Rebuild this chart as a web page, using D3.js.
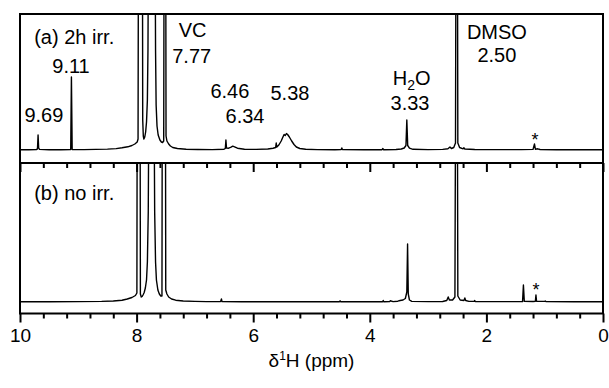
<!DOCTYPE html>
<html>
<head>
<meta charset="utf-8">
<script src="https://cdn.jsdelivr.net/npm/d3@7"></script>
<style>
  body { margin: 0; background: #fff; }
  svg { display: block; }
  text { font-family: "Liberation Sans", Arial, sans-serif; fill: #000; }
</style>
</head>
<body>
<svg id="chart" width="609" height="388"></svg>
<script>
// chemical shift ticks (ppm)
const majorTicks = [10, 8, 6, 4, 2, 0];
const minorTicks = [9.6, 9.2, 8.8, 8.4, 7.6, 7.2, 6.8, 6.4, 5.6, 5.2, 4.8, 4.4, 3.6, 3.2, 2.8, 2.4, 1.6, 1.2, 0.8, 0.4];

// (a) 2h irradiation: [ppm, intensity]
const spectrumA = [
  [10.0, 0.2], [9.85, 0.3], [9.72, 0.4], [9.70, 1.2], [9.69, 15], [9.68, 2], [9.665, 0.6], [9.5, 0.3], [9.3, 0.3],
  [9.13, 0.4], [9.118, 73], [9.105, 0.5], [8.9, 0.4], [8.7, 0.6], [8.5, 0.9], [8.35, 1.4], [8.25, 2.2], [8.15, 3.2],
  [8.08, 4.5], [8.03, 6], [7.99, 8], [7.975, 11], [7.963, 400], [7.905, 400], [7.895, 30], [7.885, 14], [7.875, 11],
  [7.86, 13], [7.845, 18], [7.83, 28], [7.815, 50], [7.805, 100], [7.795, 250], [7.76, 900], [7.72, 900], [7.685, 250],
  [7.675, 100], [7.665, 45], [7.65, 24], [7.63, 15], [7.60, 10], [7.575, 8], [7.555, 7.5], [7.535, 9], [7.523, 400],
  [7.505, 400], [7.495, 14], [7.48, 9], [7.45, 6], [7.42, 4], [7.38, 2.5], [7.3, 1.5], [7.15, 0.8], [6.95, 0.5],
  [6.7, 0.4], [6.5, 0.8], [6.478, 1.5], [6.468, 10], [6.458, 2], [6.42, 1.8], [6.38, 2.8], [6.35, 3.8], [6.32, 3.2],
  [6.27, 1.8], [6.15, 0.8], [5.95, 0.6], [5.75, 1], [5.66, 1.8], [5.615, 2.5], [5.605, 7], [5.595, 3], [5.56, 5],
  [5.52, 9], [5.49, 13], [5.47, 15.5], [5.45, 14.5], [5.43, 16.5], [5.41, 15.5], [5.38, 13], [5.34, 9], [5.30, 5.5],
  [5.26, 3], [5.2, 1.5], [5.1, 0.7], [4.9, 0.4], [4.6, 0.3], [4.49, 0.4], [4.48, 2], [4.47, 0.4], [4.1, 0.3],
  [3.79, 0.3], [3.775, 1.5], [3.765, 0.3], [3.55, 0.5], [3.46, 1], [3.41, 2], [3.38, 4.5], [3.365, 30], [3.35, 4.5],
  [3.32, 1.8], [3.26, 0.7], [3.0, 0.4], [2.75, 0.6], [2.66, 1.2], [2.625, 3], [2.60, 1.5], [2.56, 2.5], [2.53, 7],
  [2.515, 400], [2.502, 400], [2.49, 7], [2.46, 2.5], [2.40, 1.2], [2.385, 2.2], [2.37, 1], [2.2, 0.5], [1.8, 0.4],
  [1.4, 0.4], [1.2, 0.6], [1.175, 6], [1.16, 0.8], [1.12, 1.2], [1.08, 0.5], [0.8, 0.3], [0.4, 0.3], [0.0, 0.3]
];

// (b) no irradiation: [ppm, intensity]
const spectrumB = [
  [10.0, 0.2], [9.5, 0.3], [9.0, 0.4], [8.6, 0.6], [8.4, 1], [8.25, 1.8], [8.16, 3], [8.08, 4.5], [8.02, 6.5],
  [7.995, 9], [7.985, 400], [7.945, 400], [7.935, 8], [7.92, 5], [7.905, 5.5], [7.89, 7], [7.87, 9.5], [7.85, 14],
  [7.83, 22], [7.815, 40], [7.80, 90], [7.785, 250], [7.76, 900], [7.72, 900], [7.705, 250], [7.69, 90], [7.675, 40],
  [7.66, 22], [7.635, 12], [7.61, 8], [7.585, 6], [7.565, 6], [7.555, 400], [7.51, 400], [7.50, 12], [7.48, 8],
  [7.45, 5], [7.40, 3], [7.33, 1.8], [7.2, 1], [7.0, 0.6], [6.8, 0.4], [6.56, 0.4], [6.545, 3], [6.535, 0.4],
  [6.2, 0.3], [5.5, 0.3], [4.8, 0.3], [4.52, 0.3], [4.51, 1.2], [4.50, 0.3], [4.0, 0.3], [3.78, 0.3], [3.77, 1.5],
  [3.76, 0.3], [3.66, 0.4], [3.65, 1.2], [3.60, 0.4], [3.52, 0.8], [3.48, 1.5], [3.43, 2], [3.39, 3.5], [3.365, 10],
  [3.352, 58], [3.34, 8], [3.32, 2], [3.28, 0.6], [3.0, 0.4], [2.75, 0.5], [2.68, 1.5], [2.655, 5], [2.635, 2],
  [2.58, 2], [2.54, 5], [2.518, 400], [2.505, 400], [2.49, 6], [2.45, 2], [2.385, 1.5], [2.37, 4], [2.355, 1.5],
  [2.30, 0.6], [2.21, 0.6], [2.20, 1.5], [2.19, 0.5], [1.8, 0.4], [1.38, 0.4], [1.365, 17], [1.35, 0.6], [1.2, 0.5],
  [1.16, 0.8], [1.15, 7], [1.14, 0.8], [1.0, 0.6], [0.99, 1], [0.98, 0.5], [0.5, 0.3], [0.0, 0.3]
];

// peak annotations: [text, ppm, intensity]
const labelsA = [
  ["(a) 2h irr.", 9.07, 106.5], ["9.11", 9.125, 76.7], ["9.69", 9.59, 28.3],
  ["VC", 7.04, 113], ["7.77", 7.055, 86.7], ["6.46", 6.40, 51.7], ["6.34", 6.14, 26.7],
  ["5.38", 5.37, 50], ["H2O", 3.28, 65], ["3.33", 3.31, 40],
  ["DMSO", 1.82, 110.7], ["2.50", 1.82, 88.3]
];
const labelsB = [["(b) no irr.", 9.07, 102]];
const starA = [1.166, 4];
const starB = [1.15, 5.7];

const svg = d3.select("#chart");
const left = 20, right = 603;

const x = d3.scaleLinear().domain([10, 0]).range([left, right]);

const panels = [
  { id: "a", data: spectrumA, top: 14, bottom: 163, yDomain: [-13, 136], labels: labelsA, star: starA },
  { id: "b", data: spectrumB, top: 163, bottom: 313.5, yDomain: [-11.5, 139], labels: labelsB, star: starB }
];

panels.forEach(p => {
  const y = d3.scaleLinear().domain(p.yDomain).range([p.bottom, p.top]);

  svg.append("clipPath")
    .attr("id", "clip-" + p.id)
    .append("rect")
    .attr("x", left)
    .attr("y", p.top)
    .attr("width", right - left)
    .attr("height", p.bottom - p.top);

  const line = d3.line()
    .x(d => x(d[0]))
    .y(d => y(d[1]));

  svg.append("path")
    .datum(p.data)
    .attr("clip-path", "url(#clip-" + p.id + ")")
    .attr("d", line)
    .style("fill", "none")
    .style("stroke", "#000")
    .style("stroke-width", "1.4px")
    .style("stroke-linejoin", "round");

  p.labels.forEach(l => {
    const t = svg.append("text")
      .attr("x", x(l[1]))
      .attr("y", y(l[2]))
      .attr("text-anchor", "middle")
      .style("font-size", "20px");
    if (l[0] === "H2O") {
      t.append("tspan").text("H");
      t.append("tspan").attr("dy", 5).style("font-size", "14px").text("2");
      t.append("tspan").attr("dy", -5).text("O");
    } else {
      t.text(l[0]);
    }
  });

  svg.append("text")
    .attr("x", x(p.star[0]))
    .attr("y", y(p.star[1]))
    .attr("text-anchor", "middle")
    .style("font-size", "18px")
    .text("*");

  svg.append("rect")
    .attr("x", left)
    .attr("y", p.top)
    .attr("width", right - left)
    .attr("height", p.bottom - p.top)
    .style("fill", "none")
    .style("stroke", "#000")
    .style("stroke-width", "2px");
});

// ticks between the panels and at the bottom
function drawTicks(yPos, withLabels) {
  const minor = svg.append("g")
    .attr("transform", "translate(0," + yPos + ")")
    .call(d3.axisBottom(x).tickValues(minorTicks).tickSize(5).tickFormat(""));
  minor.select(".domain").remove();
  minor.selectAll("line").style("stroke-width", "2px");

  const major = svg.append("g")
    .attr("transform", "translate(0," + yPos + ")")
    .call(d3.axisBottom(x).tickValues(majorTicks).tickSize(9).tickPadding(6)
      .tickFormat(withLabels ? d3.format("d") : ""));
  major.select(".domain").remove();
  major.selectAll("line").style("stroke-width", "2px");
  major.selectAll("text")
    .style("font-size", "19px")
    .style("font-family", "'Liberation Sans', Arial, sans-serif")
    .attr("fill", "#000");
}

drawTicks(163, false);
drawTicks(313.5, true);

const title = svg.append("text")
  .attr("x", (left + right) / 2)
  .attr("y", 367)
  .attr("text-anchor", "middle")
  .style("font-size", "19px");
title.append("tspan").text("δ");
title.append("tspan").attr("dy", -7).style("font-size", "12px").text("1");
title.append("tspan").attr("dy", 7).text("H (ppm)");
</script>
</body>
</html>
